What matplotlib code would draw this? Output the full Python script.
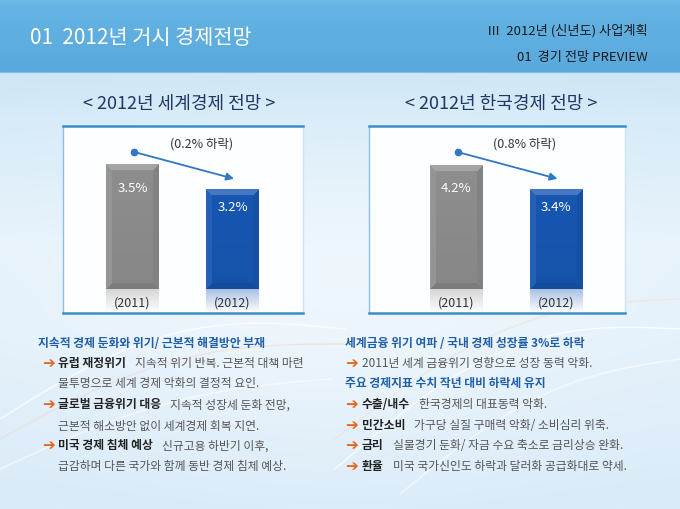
import numpy as np
import matplotlib
matplotlib.use('Agg')
import matplotlib.pyplot as plt
from matplotlib import transforms as mtrans
from matplotlib.colors import to_rgb

plt.rcParams['font.family'] = ['Noto Sans CJK KR', 'DejaVu Sans']

# ---------------- data ----------------
years = ['(2011)', '(2012)']
world_growth = [3.5, 3.2]
korea_growth = [4.2, 3.4]
world_labels = ['3.5%', '3.2%']
korea_labels = ['4.2%', '3.4%']
world_change = '(0.2% 하락)'
korea_change = '(0.8% 하락)'
page_title = '01  2012년 거시 경제전망'
section_lines = ['Ⅲ  2012년 (신년도) 사업계획', '01  경기 전망 PREVIEW']
chart_titles = ['< 2012년 세계경제 전망 >', '< 2012년 한국경제 전망 >']
left_notes = [
    ('head', '지속적 경제 둔화와 위기/ 근본적 해결방안 부재', ''),
    ('bullet', '유럽 재정위기', '지속적 위기 반복. 근본적 대책 마련'),
    ('cont', '', '불투명으로 세계 경제 악화의 결정적 요인.'),
    ('bullet', '글로벌 금융위기 대응', '지속적 성장세 둔화 전망,'),
    ('cont', '', '근본적 해소방안 없이 세계경제 회복 지연.'),
    ('bullet', '미국 경제 침체 예상', '신규고용 하반기 이후,'),
    ('cont', '', '급감하며 다른 국가와 함께 동반 경제 침체 예상.'),
]
right_notes = [
    ('head', '세계금융 위기 여파 / 국내 경제 성장률 3%로 하락', ''),
    ('bullet', '', '2011년 세계 금융위기 영향으로 성장 동력 악화.'),
    ('head', '주요 경제지표 수치 작년 대비 하락세 유지', ''),
    ('bullet', '수출/내수', '한국경제의 대표동력 악화.'),
    ('bullet', '민간소비', '가구당 실질 구매력 악화/ 소비심리 위축.'),
    ('bullet', '금리', '실물경기 둔화/ 자금 수요 축소로 금리상승 완화.'),
    ('bullet', '환율', '미국 국가신인도 하락과 달러화 공급화대로 약세.'),
]

# ---------------- figure ----------------
W, H = 680, 510
fig = plt.figure(figsize=(W / 100, H / 100), dpi=100)
bg = fig.add_axes([0, 0, 1, 1])
bg.set_xlim(0, W)
bg.set_ylim(H, 0)
bg.axis('off')


def lerp_stops(y, stops):
    ys = [s[0] for s in stops]
    cols = np.array([to_rgb(s[1]) for s in stops])
    return np.stack([np.interp(y, ys, cols[:, k]) for k in range(3)], axis=-1)


yy = np.arange(H) + 0.5
col = lerp_stops(yy, [(0, '#70bbe9'), (8, '#64b3e4'), (73, '#59a9dd'),
                      (74.5, '#cde5f6'), (120, '#d6ebf8'), (240, '#e6f2fb'),
                      (330, '#e4f1fb'), (510, '#d8eaf8')])
img = np.repeat(col[:, None, :], W, axis=1)
xx = np.arange(W) + 0.5
glow = np.exp(-((xx[None, :] - 340) / 260) ** 2 - ((yy[:, None] - 300) / 170) ** 2) * 0.35
mask = (yy[:, None] > 75)
img = img + (1 - img) * (glow * mask)[..., None]
bg.imshow(img, extent=(0, W, H, 0), aspect='auto', zorder=0, interpolation='bilinear')

# decorative swooshes
t = np.linspace(0, 1, 200)
for (x0, y0, x1, y1, bend, c, a) in [
        (0, 420, 345, 330, -40, 'white', 0.8),
        (0, 440, 345, 345, -30, '#f3d9d0', 0.6),
        (0, 470, 330, 380, -20, 'white', 0.6),
        (335, 470, 680, 330, -50, 'white', 0.8),
        (335, 440, 680, 300, -40, '#f3ddc8', 0.5),
        (400, 495, 680, 360, -30, 'white', 0.6)]:
    xs_ = x0 + (x1 - x0) * t
    ys_ = y0 + (y1 - y0) * t + bend * np.sin(np.pi * t)
    bg.plot(xs_, ys_, color=c, lw=1.0, alpha=a, zorder=1)

# header text
bg.text(30, 38, page_title, color='white', fontsize=15, va='center', ha='left', zorder=5)
bg.text(648, 31, section_lines[0], color='#1a1a1a', fontsize=9.5, va='center', ha='right', zorder=5)
bg.text(648, 57, section_lines[1], color='#1a1a1a', fontsize=9.5, va='center', ha='right', zorder=5)

# chart titles
bg.text(179, 104, chart_titles[0], color='#1f3864', fontsize=13, va='center', ha='center', zorder=5)
bg.text(501, 104, chart_titles[1], color='#1f3864', fontsize=13, va='center', ha='center', zorder=5)

# chart boxes
boxes = [(63, 303), (369, 625)]
box_top, box_bot = 127, 314
for (l, r) in boxes:
    bg.add_patch(plt.Rectangle((l, box_top), r - l, box_bot - box_top, facecolor='#fdfeff',
                               edgecolor='none', zorder=2))
    bg.plot([l, l], [box_top, box_bot], color='#8dbde0', lw=1.0, zorder=3)
    bg.plot([r, r], [box_top, box_bot], color='#cfe4f3', lw=1.0, zorder=3)
    bg.plot([l, r], [box_top, box_top], color='#3d8ec6', lw=1.8, zorder=3)
    bg.plot([l, r], [box_bot, box_bot], color='#3d8ec6', lw=1.8, zorder=3)

# ---------------- bar charts ----------------
base_y = 290
panels = [
    dict(box=boxes[0], vals=world_growth, labels=world_labels, change=world_change,
         x_first=132.5, floor=2.0, scale=82.7),
    dict(box=boxes[1], vals=korea_growth, labels=korea_labels, change=korea_change,
         x_first=456.0, floor=0.2, scale=31.0),
]
bar_colors = ['#8e8e8e', '#1757b2']
bar_w = 0.53
px_per_x = 100.0
label_offsets = [-23, -17]


def shade(c, f):
    c = np.array(to_rgb(c))
    if f >= 0:
        return c + (1 - c) * f
    return c * (1 + f)


renderer = fig.canvas.get_renderer()

for p in panels:
    l, r = p['box']
    ax = fig.add_axes([l / W, 1 - base_y / H, (r - l) / W, (base_y - box_top) / H])
    ax.set_xlim(-(p['x_first'] - l) / px_per_x, -(p['x_first'] - l) / px_per_x + (r - l) / px_per_x)
    ax.set_ylim(p['floor'], p['floor'] + (base_y - box_top) / p['scale'])
    ax.axis('off')
    ax.patch.set_alpha(0)
    xs = np.arange(len(p['vals']))
    bars = ax.bar(xs, p['vals'], width=bar_w, color=bar_colors, zorder=2)
    y0 = ax.get_ylim()[0]
    for i, (b, v) in enumerate(zip(bars, p['vals'])):
        c = bar_colors[i]
        hp = int(round((v - y0) * p['scale']))
        wp = int(round(bar_w * px_per_x))
        Y, X = np.mgrid[0:hp, 0:wp] + 0.5
        dt, db, dl, dr = Y, hp - Y, X, wp - X
        dmin = np.minimum(np.minimum(dt, db), np.minimum(dl, dr))
        arr = np.tile(shade(c, 0.0), (hp, wp, 1))
        arr = arr * (1 - 0.05 * (Y / hp))[..., None]
        bev = 6
        top = (dmin == dt) & (dt < bev)
        left = (dmin == dl) & (dl < bev) & ~top
        right = (dmin == dr) & (dr < bev) & ~top
        bot = (dmin == db) & (db < bev) & ~top & ~left & ~right
        arr[top] = shade(c, 0.2)
        arr[left] = shade(c, 0.06)
        arr[right] = shade(c, -0.08)
        arr[bot] = shade(c, -0.12)
        bx = b.get_x()
        ax.imshow(arr, extent=(bx, bx + bar_w, y0, v), origin='upper', aspect='auto',
                  zorder=3, interpolation='bilinear')
        # reflection
        rh = 24
        R = np.zeros((rh, wp, 4))
        R[..., :3] = shade(c, 0.62)
        R[..., 3] = np.linspace(0.95, 0.0, rh)[:, None]
        ax.imshow(R, extent=(bx, bx + bar_w, y0 - rh / p['scale'], y0), origin='upper',
                  aspect='auto', zorder=3, clip_on=False, interpolation='bilinear')
        ax.annotate(p['labels'][i], xy=(xs[i], v), xytext=(0, label_offsets[i]),
                    textcoords='offset pixels', ha='center', va='center', color='white',
                    fontsize=9.5, zorder=5, annotation_clip=False)
        ax.annotate(years[i], xy=(xs[i], y0), xytext=(0, -13), textcoords='offset pixels',
                    ha='center', va='center', color='#333333', fontsize=9, zorder=5,
                    annotation_clip=False)
    ax.set_ylim(y0, p['floor'] + (base_y - box_top) / p['scale'])
    t_start = mtrans.offset_copy(ax.transData, x=1.5, y=13, units='dots')
    t_end = mtrans.offset_copy(ax.transData, x=1.5, y=11, units='dots')
    ax.annotate('', xy=(xs[1], p['vals'][1]), xycoords=t_end,
                xytext=(xs[0], p['vals'][0]), textcoords=t_start,
                arrowprops=dict(arrowstyle='-|>', color='#2f78c4', lw=1.3,
                                shrinkA=0, shrinkB=0, mutation_scale=11),
                annotation_clip=False, zorder=4)
    ax.plot([xs[0]], [p['vals'][0]], 'o', ms=4.5, color='#2f78c4', transform=t_start,
            clip_on=False, zorder=5)
    tb = mtrans.blended_transform_factory(ax.transData, ax.transAxes)
    ax.text(0.69, 1 - 17 / (base_y - box_top), p['change'], transform=tb, ha='center',
            va='center', fontsize=9, color='#333333', zorder=5)

# ---------------- notes ----------------
rows_y = [344, 364, 384, 405, 426, 446, 467]
note_fs = 8.5


def draw_notes(notes, x_head, x_arrow, x_text):
    for (kind, bold, normal), y in zip(notes, rows_y):
        if kind == 'head':
            bg.text(x_head, y, bold, color='#1f5ea8', fontsize=note_fs, fontweight='bold',
                    va='center', ha='left', zorder=5)
            continue
        if kind == 'bullet':
            bg.text(x_arrow, y, '➔', color='#e8651c', fontsize=11, fontweight='bold',
                    family='DejaVu Sans', va='center', ha='left', zorder=5)
        x = x_text
        if bold:
            tb = bg.text(x, y, bold, color='#222222', fontsize=note_fs, fontweight='bold',
                         va='center', ha='left', zorder=5)
            ext = tb.get_window_extent(renderer=renderer)
            x = ext.x1 + 9
        if normal:
            bg.text(x, y, normal, color='#555555', fontsize=note_fs, va='center', ha='left',
                    zorder=5)


draw_notes(left_notes, 38, 42, 58)
draw_notes(right_notes, 345, 345, 362)

fig.savefig('out.png', dpi=100)
